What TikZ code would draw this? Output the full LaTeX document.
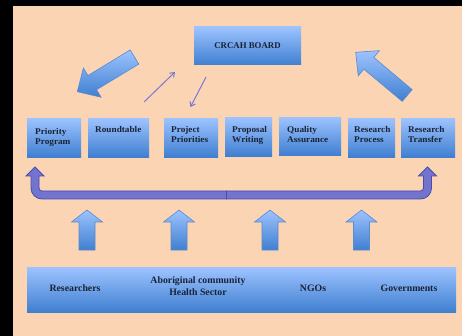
\documentclass[tikz,border=0pt]{standalone}
\usepackage{fontspec}
\setmainfont{Liberation Serif}
\newfontfamily\boxfont{Liberation Serif}[FakeStretch=1.05]
\usetikzlibrary{calc,arrows.meta}
\definecolor{peach}{HTML}{FBD4B4}
\definecolor{ltblue}{HTML}{9DC3FF}
\definecolor{dkblue}{HTML}{3F7FD0}
\definecolor{arrline}{HTML}{5A8AD0}
\definecolor{ufill}{HTML}{7373D0}
\definecolor{uline}{HTML}{4B4BAA}
\definecolor{thinc}{HTML}{7878D8}
\definecolor{txt}{HTML}{1A2238}
\newcommand{\blockarr}[5]{%
  \coordinate (bT) at #1; \coordinate (bP) at #2;
  \coordinate (bH) at ($(bP)!#5pt!(bT)$);
  \path[blockarrow] ($(bT)!#3pt!90:(bP)$) -- ($(bH)!#3pt!-90:(bT)$) -- ($(bH)!#4pt!-90:(bT)$) -- (bP)
    -- ($(bH)!#4pt!90:(bT)$) -- ($(bH)!#3pt!90:(bT)$) -- ($(bT)!#3pt!-90:(bP)$) -- cycle;}
\newcommand{\bx}[5]{\node[boxnode, anchor=north west, minimum width=#4pt, minimum height=#5pt] (#1) at (#2,#3) {};}
\tikzset{
  blockarrow/.style={draw=arrline, line width=0.6pt, top color=ltblue, bottom color=dkblue},
  boxnode/.style={rectangle, inner sep=0pt, top color=ltblue, bottom color=dkblue},
  lbl/.style={font=\boxfont\fontsize{8.8}{10}\selectfont\bfseries, text=txt, align=left, inner sep=0pt, anchor=north west},
  blbl/.style={font=\fontsize{9.8}{12}\selectfont\bfseries, text=txt, align=center, inner sep=0pt},
  thinarr/.style={draw=thinc, line width=1pt, -{Straight Barb[length=4pt,width=6pt]}},
  ushape/.style={draw=uline, line width=0.8pt, fill=ufill, line join=miter}
}
\begin{document}
\begin{tikzpicture}[x=1pt,y=-1pt]
\useasboundingbox (0,0) rectangle (462,336);
\fill[black] (0,0) rectangle (462,336);
\fill[peach] (12.7,5.7) rectangle (462,336);

% board
\node[boxnode, minimum width=107pt, minimum height=38pt, font=\fontsize{8.8}{10}\selectfont\bfseries, text=txt] (board) at (247.5,46) {CRCAH BOARD};

% big arrows
\blockarr{(134.5,57)}{(77.3,91.7)}{8.3}{17.1}{17.5}
\blockarr{(407.2,95.5)}{(355.7,52.3)}{7.7}{16.5}{17.1}

% thin arrows
\coordinate (t1s) at (144,102); \coordinate (t1e) at (175,72);
\coordinate (t2s) at (206,77); \coordinate (t2e) at (190.5,107);
\draw[thinarr] (t1s) -- (t1e);
\draw[thinarr] (t2s) -- (t2e);

% row of boxes
\bx{pp}{27}{118}{54}{39}
\bx{rt}{88}{118}{61}{39}
\bx{pj}{164}{118}{54}{39}
\bx{pw}{225}{117}{47}{39}
\bx{qa}{279}{117}{62}{38}
\bx{rp}{348}{118}{47}{39}
\bx{rtf}{401}{118}{54}{39}
\node[lbl] (ppt) at (35,128.3) {Priority\\Program};
\node[lbl] (rtt) at (95,125.8) {Roundtable};
\node[lbl] (pjt) at (171,125.8) {Project\\Priorities};
\node[lbl] (pwt) at (232,125.8) {Proposal\\Writing};
\node[lbl] (qat) at (287,125.8) {Quality\\Assurance};
\node[lbl] (rpt) at (354,125.8) {Research\\Process};
\node[lbl] (rtft) at (408,125.8) {Research\\Transfer};

% U arrow
\path[ushape] (35,167) -- (44,176) -- (39,176) [rounded corners=3pt] -- (39,191) [sharp corners] -- (226.5,191)
  -- (226.5,199) [rounded corners=11pt] -- (31,199) [sharp corners] -- (31,176) -- (26,176) -- cycle;
\path[ushape] (427.5,167) -- (436.5,176) -- (431.5,176) [rounded corners=11pt] -- (431.5,199) [sharp corners] -- (226.5,199)
  -- (226.5,191) [rounded corners=3pt] -- (423.5,191) [sharp corners] -- (423.5,176) -- (418.5,176) -- cycle;

% up arrows
\blockarr{(87,250)}{(87,210)}{8}{15.5}{12}
\blockarr{(179,250)}{(179,210)}{8}{15.5}{12}
\blockarr{(270,250)}{(270,210)}{8}{15.5}{12}
\blockarr{(361.5,250)}{(361.5,210)}{8}{15.5}{12}

% bottom bar
\node[boxnode, anchor=north west, minimum width=429pt, minimum height=45pt] (bar) at (27,267) {};
\node[blbl] (res) at (75,288) {Researchers};
\node[blbl] (abo) at (198,286) {Aboriginal community\\Health Sector};
\node[blbl] (ngo) at (313,288) {NGOs};
\node[blbl] (gov) at (409,288) {Governments};
\end{tikzpicture}
\end{document}
